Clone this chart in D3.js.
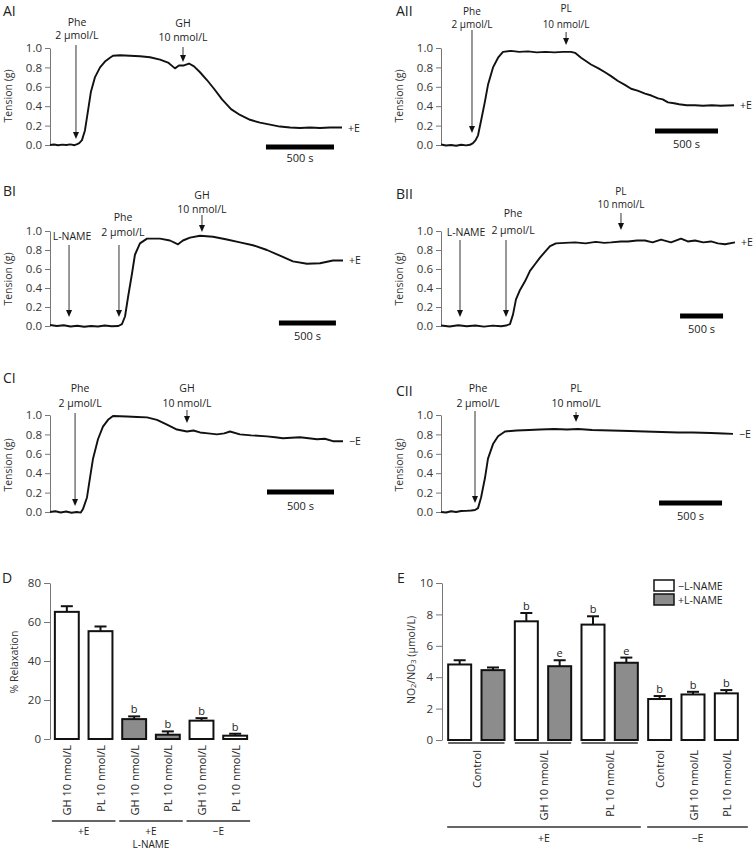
<!DOCTYPE html>
<html>
<head>
<meta charset="utf-8">
<script src="https://cdn.jsdelivr.net/npm/d3@7"></script>
<style>
  body { margin: 0; background: #fff; }
  text { font-family: "Open Sans", "Liberation Sans", sans-serif; fill: #222; }
</style>
</head>
<body>
<script>
// ---------------- data: tension traces (time in s, tension in g) ----------------
var tensionTicks = [0, 0.2, 0.4, 0.6, 0.8, 1.0];
var scaleBarSeconds = 500;

var aiTime = [0,30,60,90,120,150,180,200,215,235,257,279,301,331,368,404,441,463,515,588,662,735,809,868,919,948,985,1022,1059,1103,1154,1206,1265,1331,1397,1471,1544,1618,1691,1765,1838,1912,1985,2059,2147];
var aiTension = [0.0,0.005,-0.003,0.004,0.0,0.006,-0.002,0.01,0.02,0.05,0.15,0.35,0.55,0.7,0.8,0.86,0.9,0.92,0.925,0.92,0.915,0.905,0.88,0.85,0.79,0.82,0.82,0.84,0.81,0.75,0.67,0.58,0.47,0.37,0.31,0.26,0.23,0.21,0.19,0.18,0.175,0.18,0.175,0.18,0.18];
var aiMarks = [{t: 191, lines: ["Phe", "2 µmol/L"]}, {t: 978, lines: ["GH", "10 nmol/L"]}];

var aiiTime = [0,40,80,120,160,200,230,254,275,294,318,349,373,413,453,492,556,620,691,760,830,900,970,1032,1064,1112,1191,1250,1302,1350,1405,1460,1509,1560,1620,1670,1723,1760,1802,1850,1890,1950,2017,2080,2150,2220,2326];
var aiiTension = [0.005,-0.005,0.0,-0.008,0.003,-0.004,0.002,0.02,0.05,0.1,0.25,0.45,0.62,0.8,0.9,0.96,0.97,0.96,0.965,0.955,0.96,0.955,0.96,0.96,0.95,0.9,0.83,0.79,0.75,0.71,0.66,0.62,0.58,0.56,0.53,0.51,0.48,0.47,0.44,0.43,0.42,0.41,0.41,0.405,0.41,0.405,0.41];
var aiiMarks = [{t: 246, lines: ["Phe", "2 µmol/L"]}, {t: 993, lines: ["PL", "10 nmol/L"]}];

var biTime = [0,60,120,180,240,300,360,420,480,540,600,631,658,684,719,745,789,851,965,1052,1123,1166,1228,1316,1430,1552,1666,1780,1903,2017,2131,2254,2368,2482,2570];
var biTension = [0.01,0.0,0.008,-0.005,0.003,-0.008,0.0,-0.005,0.005,-0.003,0.0,0.02,0.1,0.3,0.55,0.75,0.87,0.92,0.92,0.9,0.86,0.9,0.93,0.95,0.94,0.91,0.88,0.85,0.8,0.74,0.68,0.655,0.66,0.69,0.69];
var biMarks = [{t: 167, lines: ["L-NAME"]}, {t: 605, lines: ["Phe", "2 µmol/L"]}, {t: 1333, lines: ["GH", "10 nmol/L"]}];

var biiTime = [0,100,200,300,400,500,600,700,756,802,837,872,919,977,1035,1093,1151,1209,1268,1337,1442,1560,1680,1800,1900,1977,2093,2175,2280,2372,2460,2559,2675,2791,2870,2954,3050,3140,3220,3303,3419];
var biiTension = [0.005,-0.005,0.008,-0.003,0.005,-0.006,0.004,-0.002,0.005,0.02,0.12,0.28,0.38,0.47,0.58,0.65,0.72,0.78,0.84,0.87,0.875,0.88,0.87,0.885,0.875,0.88,0.89,0.89,0.9,0.9,0.88,0.91,0.88,0.92,0.89,0.9,0.88,0.89,0.87,0.86,0.88];
var biiMarks = [{t: 221, lines: ["L-NAME"]}, {t: 756, lines: ["Phe", "2 µmol/L"]}, {t: 2093, lines: ["PL", "10 nmol/L"]}];

var ciTime = [0,40,80,120,160,200,230,246,276,298,321,358,395,433,470,574,650,724,798,873,947,1022,1070,1119,1180,1246,1300,1343,1417,1500,1619,1680,1738,1800,1865,1930,1992,2050,2111,2186];
var ciTension = [0.0,0.008,-0.005,0.005,-0.008,0.0,-0.006,0.03,0.15,0.35,0.55,0.75,0.88,0.95,0.99,0.985,0.98,0.975,0.95,0.9,0.85,0.83,0.84,0.82,0.81,0.8,0.81,0.83,0.8,0.79,0.78,0.77,0.76,0.765,0.77,0.76,0.75,0.755,0.73,0.73];
var ciMarks = [{t: 187, lines: ["Phe", "2 µmol/L"]}, {t: 1022, lines: ["GH", "10 nmol/L"]}];

var ciiTime = [0,40,80,120,160,200,240,270,294,318,349,373,413,453,508,600,700,786,900,1000,1088,1200,1350,1500,1620,1750,1882,2000,2144,2240,2318];
var ciiTension = [0.0,-0.005,0.008,0.0,0.01,0.012,0.015,0.02,0.04,0.15,0.35,0.55,0.7,0.78,0.83,0.84,0.845,0.85,0.855,0.85,0.855,0.845,0.84,0.835,0.83,0.825,0.82,0.82,0.815,0.81,0.805];
var ciiMarks = [{t: 270, lines: ["Phe", "2 µmol/L"]}, {t: 1072, lines: ["PL", "10 nmol/L"]}];

// ---------------- data: panel D (% relaxation) ----------------
var dLabels = ["GH 10 nmol/L", "PL 10 nmol/L", "GH 10 nmol/L", "PL 10 nmol/L", "GH 10 nmol/L", "PL 10 nmol/L"];
var dMean = [65.2, 55.3, 10.2, 2.2, 9.4, 1.7];
var dSem = [2.9, 2.4, 1.4, 1.7, 1.3, 1.0];
var dLName = [false, false, true, true, false, false];
var dSig = ["", "", "b", "b", "b", "b"];
var dGroups = [{label: "+E", bars: [0, 1]}, {label: "+E", sub: "L-NAME", bars: [2, 3]}, {label: "\u2212E", bars: [4, 5]}];
var dTicks = [0, 20, 40, 60, 80];

// ---------------- data: panel E (NO2/NO3) ----------------
var eMean = [4.81, 4.45, 7.56, 4.70, 7.35, 4.92, 2.61, 2.90, 2.97];
var eSem = [0.27, 0.17, 0.53, 0.38, 0.53, 0.33, 0.19, 0.17, 0.21];
var eLName = [false, true, false, true, false, true, false, false, false];
var eSig = ["", "", "b", "e", "b", "e", "b", "b", "b"];
var eTreatments = [
  {label: "Control", bars: [0, 1]}, {label: "GH 10 nmol/L", bars: [2, 3]}, {label: "PL 10 nmol/L", bars: [4, 5]},
  {label: "Control", bars: [6]}, {label: "GH 10 nmol/L", bars: [7]}, {label: "PL 10 nmol/L", bars: [8]}
];
var eGroups = [{label: "+E", bars: [0, 5]}, {label: "\u2212E", bars: [6, 8]}];
var eLegend = ["\u2212L-NAME", "+L-NAME"];
var eTicks = [0, 2, 4, 6, 8, 10];

// ---------------- layout ----------------
var FONT = '"Open Sans", "Liberation Sans", sans-serif';
var GRAY = "#8c8c8c";

var svg = d3.select("body").append("svg")
  .attr("width", 755).attr("height", 850)
  .style("background", "#fff");

function styleAxis(ax) {
  ax.attr("font-family", FONT).attr("font-size", 11.5);
  ax.select(".domain").attr("stroke", "#777");
  ax.selectAll(".tick line").attr("stroke", "#777");
  ax.selectAll(".tick text").style("fill", "#333");
}

//--------------------------------drawTrace()---------------------------------
function drawTrace(time, tension, marks, endLabel, tag, L) {
  var g = svg.append("g");
  var x = d3.scaleLinear().domain([0, time[time.length - 1]]).range([L.x0, L.x1]);
  var y = d3.scaleLinear().domain([0, 1]).range([L.y0, L.y1]);

  var ax = g.append("g").attr("transform", "translate(" + L.x0 + ",0)")
    .call(d3.axisLeft(y).tickValues(tensionTicks).tickFormat(d3.format(".1f"))
      .tickSize(5).tickSizeOuter(0).tickPadding(3));
  styleAxis(ax);

  g.append("text").attr("transform", "translate(" + L.yTitle[0] + "," + L.yTitle[1] + ") rotate(-90)")
    .attr("text-anchor", "middle").attr("dominant-baseline", "central")
    .attr("font-size", 10.5).style("fill", "#333").text("Tension (g)");

  g.append("text").attr("x", L.tag[0]).attr("y", L.tag[1]).attr("font-size", 14).text(tag);

  g.append("path").datum(d3.zip(time, tension))
    .attr("d", d3.line().x(function(d) { return x(d[0]); }).y(function(d) { return y(d[1]); }))
    .attr("fill", "none").attr("stroke", "#111").attr("stroke-width", 1.9).attr("stroke-linejoin", "round");

  // scale bar
  var bx0 = x(L.barT), bx1 = x(L.barT + scaleBarSeconds);
  g.append("rect").attr("x", bx0).attr("y", L.barY - 2.5).attr("width", bx1 - bx0).attr("height", 5).attr("fill", "#000");
  g.append("text").attr("x", (bx0 + bx1) / 2).attr("y", L.barTextY).attr("text-anchor", "middle")
    .attr("font-size", 11).text(scaleBarSeconds + " s");

  // arrows for drug additions
  marks.forEach(function(m, i) {
    var a = L.arrows[i];
    var xa = x(m.t);
    g.append("line").attr("x1", xa).attr("x2", xa).attr("y1", a.top).attr("y2", a.bottom - 6)
      .attr("stroke", "#333").attr("stroke-width", 1);
    g.append("path").attr("d", "M" + (xa - 3) + "," + (a.bottom - 7) + "L" + (xa + 3) + "," + (a.bottom - 7) + "L" + xa + "," + a.bottom + "Z")
      .attr("fill", "#111");
    m.lines.forEach(function(s, j) {
      g.append("text").attr("x", xa + (a.dx || 0)).attr("y", a.ly[j]).attr("text-anchor", "middle")
        .attr("font-size", a.fs || 10.5).text(s);
    });
  });

  g.append("text").attr("x", L.x1 + 6).attr("y", y(tension[tension.length - 1]) + 4)
    .attr("font-size", 10.5).text(endLabel);
}

drawTrace(aiTime, aiTension, aiMarks, "+E", "AI", {
  x0: 50, x1: 342, y0: 145, y1: 48, barT: 1588, barY: 147, barTextY: 162,
  tag: [3, 16], yTitle: [8, 96],
  arrows: [{top: 45, bottom: 139, ly: [26, 39], dx: 1}, {top: 47, bottom: 62, ly: [27, 41]}]
});
drawTrace(aiiTime, aiiTension, aiiMarks, "+E", "AII", {
  x0: 441, x1: 734, y0: 145, y1: 48, barT: 1699, barY: 131, barTextY: 148,
  tag: [396, 16], yTitle: [399, 96],
  arrows: [{top: 30, bottom: 133, ly: [15, 28], fs: 10}, {top: 32, bottom: 45, ly: [12, 28], fs: 10}]
});
drawTrace(biTime, biTension, biMarks, "+E", "BI", {
  x0: 50, x1: 343, y0: 326, y1: 231, barT: 2008, barY: 323, barTextY: 340,
  tag: [3, 196], yTitle: [8, 279],
  arrows: [{top: 245, bottom: 317, ly: [240], dx: 3}, {top: 245, bottom: 317, ly: [221, 236], dx: 4},
           {top: 215, bottom: 232, ly: [199, 213]}]
});
drawTrace(biiTime, biiTension, biiMarks, "+E", "BII", {
  x0: 441, x1: 735, y0: 326, y1: 231, barT: 2780, barY: 316, barTextY: 333,
  tag: [396, 199], yTitle: [399, 279],
  arrows: [{top: 240, bottom: 317, ly: [236], dx: 6}, {top: 240, bottom: 317, ly: [217, 234], dx: 7},
           {top: 213, bottom: 230, ly: [195, 208], fs: 10}]
});
drawTrace(ciTime, ciTension, ciMarks, "\u2212E", "CI", {
  x0: 50, x1: 343, y0: 512, y1: 415, barT: 1619, barY: 492, barTextY: 510,
  tag: [3, 383], yTitle: [8, 465],
  arrows: [{top: 413, bottom: 506, ly: [392, 407], dx: 5}, {top: 410, bottom: 423, ly: [392, 407]}]
});
drawTrace(ciiTime, ciiTension, ciiMarks, "\u2212E", "CII", {
  x0: 441, x1: 733, y0: 512, y1: 415, barT: 1731, barY: 503, barTextY: 520,
  tag: [396, 396], yTitle: [399, 465],
  arrows: [{top: 411, bottom: 503, ly: [392, 407], dx: 3}, {top: 412, bottom: 422, ly: [392, 407]}]
});

//--------------------------------bars with error---------------------------------
function drawBar(g, x, y, i, mean, sem, filled, sig) {
  var bw = x.bandwidth(), cx = x(i) + bw / 2;
  g.append("line").attr("x1", cx).attr("x2", cx).attr("y1", y(mean)).attr("y2", y(mean + sem))
    .attr("stroke", "#111").attr("stroke-width", 2);
  g.append("line").attr("x1", cx - 6).attr("x2", cx + 6).attr("y1", y(mean + sem)).attr("y2", y(mean + sem))
    .attr("stroke", "#111").attr("stroke-width", 2);
  g.append("rect").attr("x", x(i)).attr("width", bw).attr("y", y(mean)).attr("height", y(0) - y(mean))
    .attr("fill", filled ? GRAY : "#fff").attr("stroke", "#111").attr("stroke-width", 2);
  if (sig) {
    g.append("text").attr("x", cx).attr("y", y(mean + sem) - 3).attr("text-anchor", "middle")
      .attr("font-size", 11).text(sig);
  }
}

// ---- panel D ----
(function() {
  var g = svg.append("g");
  var x = d3.scaleBand().domain(d3.range(dMean.length)).range([50, 252]).paddingInner(0.29).paddingOuter(0.145);
  var y = d3.scaleLinear().domain([0, 80]).range([739, 583]);
  var ax = g.append("g").attr("transform", "translate(50,0)")
    .call(d3.axisLeft(y).tickValues(dTicks).tickSize(6).tickSizeOuter(0).tickPadding(3));
  styleAxis(ax);
  g.append("text").attr("x", 2).attr("y", 583).attr("font-size", 14).text("D");
  g.append("text").attr("transform", "translate(14,662) rotate(-90)").attr("text-anchor", "middle")
    .attr("dominant-baseline", "central").attr("font-size", 10.5).style("fill", "#333").text("% Relaxation");

  dMean.forEach(function(m, i) { drawBar(g, x, y, i, m, dSem[i], dLName[i], dSig[i]); });

  dLabels.forEach(function(s, i) {
    g.append("text").attr("transform", "translate(" + (x(i) + x.bandwidth() / 2) + ",745) rotate(-90)")
      .attr("text-anchor", "end").attr("dominant-baseline", "central").attr("font-size", 11).text(s);
  });
  dGroups.forEach(function(gr) {
    var x0 = x(gr.bars[0]) - 3, x1 = x(gr.bars[gr.bars.length - 1]) + x.bandwidth() + 3;
    g.append("line").attr("x1", x0).attr("x2", x1).attr("y1", 821).attr("y2", 821).attr("stroke", "#333").attr("stroke-width", 1.5);
    g.append("text").attr("x", (x0 + x1) / 2).attr("y", 834.5).attr("text-anchor", "middle").attr("font-size", 10).text(gr.label);
    if (gr.sub) g.append("text").attr("x", (x0 + x1) / 2).attr("y", 848).attr("text-anchor", "middle").attr("font-size", 10).text(gr.sub);
  });
})();

// ---- panel E ----
(function() {
  var g = svg.append("g");
  var x = d3.scaleBand().domain(d3.range(eMean.length)).range([443, 743]).paddingInner(0.31).paddingOuter(0.155);
  var y = d3.scaleLinear().domain([0, 10]).range([740, 583]);
  var ax = g.append("g").attr("transform", "translate(442,0)")
    .call(d3.axisLeft(y).tickValues(eTicks).tickSize(6).tickSizeOuter(0).tickPadding(3));
  styleAxis(ax);
  g.append("text").attr("x", 397).attr("y", 583).attr("font-size", 14).text("E");

  var yt = g.append("text").attr("transform", "translate(411,660) rotate(-90)").attr("text-anchor", "middle")
    .attr("dominant-baseline", "central").attr("font-size", 10.5).style("fill", "#333");
  yt.append("tspan").text("NO");
  yt.append("tspan").attr("font-size", 7.5).attr("dy", 2).text("2");
  yt.append("tspan").attr("dy", -2).text("/NO");
  yt.append("tspan").attr("font-size", 7.5).attr("dy", 2).text("3");
  yt.append("tspan").attr("dy", -2).text(" (µmol/L)");

  eMean.forEach(function(m, i) { drawBar(g, x, y, i, m, eSem[i], eLName[i], eSig[i]); });

  eTreatments.forEach(function(t) {
    var a = x(t.bars[0]), b = x(t.bars[t.bars.length - 1]) + x.bandwidth();
    if (t.bars.length > 1) {
      g.append("line").attr("x1", a).attr("x2", b).attr("y1", 743).attr("y2", 743).attr("stroke", "#333").attr("stroke-width", 1.5);
    }
    g.append("text").attr("transform", "translate(" + ((a + b) / 2) + ",750) rotate(-90)")
      .attr("text-anchor", "end").attr("dominant-baseline", "central").attr("font-size", 11).text(t.label);
  });
  eGroups.forEach(function(gr, k) {
    var x0 = x(gr.bars[0]) - 1, x1 = x(gr.bars[1]) + x.bandwidth() + (k === 1 ? 10 : 3);
    g.append("line").attr("x1", x0).attr("x2", x1).attr("y1", 827).attr("y2", 827).attr("stroke", "#333").attr("stroke-width", 1.5);
    g.append("text").attr("x", (x0 + x1) / 2).attr("y", 842).attr("text-anchor", "middle").attr("font-size", 10.5).text(gr.label);
  });

  // legend
  eLegend.forEach(function(s, i) {
    g.append("rect").attr("x", 654).attr("y", 580 + i * 14).attr("width", 20).attr("height", 11)
      .attr("fill", i === 0 ? "#fff" : GRAY).attr("stroke", "#111").attr("stroke-width", 1.5);
    g.append("text").attr("x", 678).attr("y", 589.5 + i * 14).attr("font-size", 10.5).text(s);
  });
})();
</script>
</body>
</html>
